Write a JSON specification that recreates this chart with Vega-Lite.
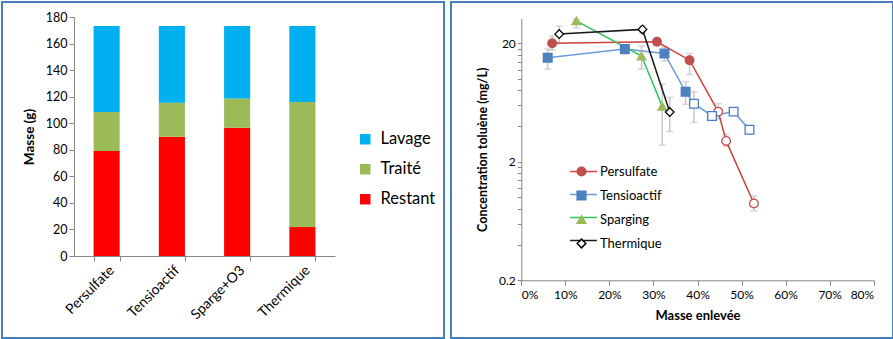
{
  "$schema": "https://vega.github.io/schema/vega-lite/v6.json",
  "padding": {"left": 1, "top": 1, "right": 2, "bottom": 2},
  "spacing": 5,
  "background": "white",
  "resolve": {
    "scale": {"color": "independent"},
    "legend": {"color": "independent"}
  },
  "config": {
    "view": {"stroke": "#4a7ebb", "strokeWidth": 2},
    "font": "Lato",
    "axis": {"grid": false, "domainColor": "#868686", "tickColor": "#868686", "labelColor": "#000000", "titleColor": "#000000", "labelFont": "Lato", "titleFont": "Lato"},
    "legend": {"labelFont": "Lato", "labelColor": "#000000"}
  },
  "hconcat": [
    {
      "width": 442,
      "height": 336,
      "data": {"values": [
        {"method": "Persulfate", "type": "Restant", "stackOrder": 1, "mass": 79.0},
        {"method": "Persulfate", "type": "Traité", "stackOrder": 2, "mass": 29.4},
        {"method": "Persulfate", "type": "Lavage", "stackOrder": 3, "mass": 64.8},
        {"method": "Tensioactif", "type": "Restant", "stackOrder": 1, "mass": 89.8},
        {"method": "Tensioactif", "type": "Traité", "stackOrder": 2, "mass": 25.7},
        {"method": "Tensioactif", "type": "Lavage", "stackOrder": 3, "mass": 57.7},
        {"method": "Sparge+O3", "type": "Restant", "stackOrder": 1, "mass": 96.6},
        {"method": "Sparge+O3", "type": "Traité", "stackOrder": 2, "mass": 22.1},
        {"method": "Sparge+O3", "type": "Lavage", "stackOrder": 3, "mass": 54.5},
        {"method": "Thermique", "type": "Restant", "stackOrder": 1, "mass": 21.8},
        {"method": "Thermique", "type": "Traité", "stackOrder": 2, "mass": 94.2},
        {"method": "Thermique", "type": "Lavage", "stackOrder": 3, "mass": 57.2}
      ]},
      "mark": {"type": "bar"},
      "encoding": {
        "x": {
          "field": "method", "type": "nominal", "sort": null,
          "scale": {"range": [72, 333], "paddingInner": 0.6, "paddingOuter": 0.3},
          "axis": {"title": null, "orient": "bottom", "offset": -82, "labelAngle": -45, "labelFontSize": 14, "tickBand": "extent", "tickSize": 5, "labelPadding": 2}
        },
        "y": {
          "field": "mass", "type": "quantitative", "stack": "zero",
          "scale": {"domain": [0, 180], "range": [254, 15], "nice": false},
          "axis": {"title": "Masse  (g)", "offset": -72, "values": [0, 20, 40, 60, 80, 100, 120, 140, 160, 180], "tickSize": 5, "labelFontSize": 12.5, "titleFontSize": 13.5, "titleFontWeight": "bold", "titlePadding": 9}
        },
        "order": {"field": "stackOrder", "type": "quantitative", "sort": "ascending"},
        "color": {
          "field": "type", "type": "nominal", "sort": ["Lavage", "Traité", "Restant"],
          "scale": {"domain": ["Lavage", "Traité", "Restant"], "range": ["#00b0f0", "#9bbb59", "#ff0000"]},
          "legend": {"title": null, "orient": "none", "legendX": 355, "legendY": 129, "labelFontSize": 16.5, "symbolType": "square", "symbolSize": 110, "symbolStrokeWidth": 0, "rowPadding": 13, "labelOffset": 7}
        }
      }
    },
    {
      "width": 442,
      "height": 336,
      "data": {"values": [
        {"series": "Persulfate", "removed": 0.070, "conc": 20.0, "hollow": false, "lo": 17.5, "hi": 23.0},
        {"series": "Persulfate", "removed": 0.308, "conc": 20.6, "hollow": false, "lo": 19.5, "hi": 22.0},
        {"series": "Persulfate", "removed": 0.382, "conc": 14.4, "hollow": false, "lo": 10.9, "hi": 16.4},
        {"series": "Persulfate", "removed": 0.447, "conc": 5.3, "hollow": true, "lo": 4.6, "hi": 6.2},
        {"series": "Persulfate", "removed": 0.465, "conc": 3.0, "hollow": true, "lo": 2.7, "hi": 3.4},
        {"series": "Persulfate", "removed": 0.528, "conc": 0.89, "hollow": true, "lo": 0.77, "hi": 1.03},
        {"series": "Tensioactif", "removed": 0.060, "conc": 15.1, "hollow": false, "lo": 12.1, "hi": 17.9},
        {"series": "Tensioactif", "removed": 0.235, "conc": 17.9, "hollow": false, "lo": 16.1, "hi": 18.6},
        {"series": "Tensioactif", "removed": 0.325, "conc": 16.4, "hollow": false, "lo": 14.2, "hi": 18.6},
        {"series": "Tensioactif", "removed": 0.373, "conc": 7.8, "hollow": false, "lo": 6.1, "hi": 9.5},
        {"series": "Tensioactif", "removed": 0.392, "conc": 6.18, "hollow": true, "lo": 4.3, "hi": 7.8},
        {"series": "Tensioactif", "removed": 0.433, "conc": 4.87, "hollow": true, "lo": null, "hi": null},
        {"series": "Tensioactif", "removed": 0.482, "conc": 5.3, "hollow": true, "lo": null, "hi": null},
        {"series": "Tensioactif", "removed": 0.518, "conc": 3.73, "hollow": true, "lo": null, "hi": null},
        {"series": "Sparging", "removed": 0.125, "conc": 30.9, "hollow": false, "lo": 27.0, "hi": 32.0},
        {"series": "Sparging", "removed": 0.273, "conc": 15.6, "hollow": false, "lo": 12.1, "hi": 19.0},
        {"series": "Sparging", "removed": 0.320, "conc": 5.87, "hollow": false, "lo": 2.76, "hi": 9.0},
        {"series": "Thermique", "removed": 0.086, "conc": 23.9, "hollow": true, "lo": 20.0, "hi": 28.0},
        {"series": "Thermique", "removed": 0.275, "conc": 26.2, "hollow": true, "lo": 24.5, "hi": 28.0},
        {"series": "Thermique", "removed": 0.337, "conc": 5.26, "hollow": true, "lo": 3.6, "hi": 7.0}
      ]},
      "layer": [
        {
          "transform": [{"filter": "isValid(datum.lo)"}],
          "mark": {"type": "errorbar", "ticks": {"size": 7}, "color": "#c8c8c8", "thickness": 1.5},
          "encoding": {
            "x": {"field": "removed", "type": "quantitative", "scale": {"domain": [0, 0.8], "range": [70.3, 422.7], "nice": false},
              "axis": {"title": "Masse enlevée", "orient": "bottom", "offset": -57.7, "values": [0, 0.1, 0.2, 0.3, 0.4, 0.5, 0.6, 0.7, 0.8], "format": ".0%", "tickSize": 5, "labelFontSize": 12, "labelPadding": 4, "titleFontSize": 13, "titleFontWeight": "bold", "titlePadding": 9}},
            "y": {"field": "lo", "type": "quantitative", "scale": {"type": "log", "domain": [0.2, 32.5], "range": [278.3, 16.3], "nice": false},
              "axis": {"title": "Concentration toluène  (mg/L)", "offset": -70.3, "values": [0.2, 0.4, 0.6, 0.8, 1, 1.2, 1.4, 1.6, 1.8, 2, 4, 6, 8, 10, 12, 14, 16, 18, 20], "format": "~g", "labelExpr": "(datum.value == 0.2 || datum.value == 2 || datum.value == 20) ? datum.label : ''", "tickSize": 4, "labelFontSize": 12, "titleFontSize": 12.5, "titleFontWeight": "bold", "titlePadding": 9}},
            "y2": {"field": "hi"}
          }
        },
        {
          "mark": {"type": "line", "strokeWidth": 1.5},
          "encoding": {
            "x": {"field": "removed", "type": "quantitative"},
            "y": {"field": "conc", "type": "quantitative"},
            "color": {"field": "series", "type": "nominal", "scale": {"domain": ["Persulfate", "Tensioactif", "Sparging", "Thermique"], "range": ["#d0403c", "#6a9ad8", "#2ec45e", "#1a1a1a"]},
              "legend": {"title": null, "orient": "none", "legendX": 126, "legendY": 163, "padding": 0, "labelFontSize": 13, "labelExpr": "' '", "symbolType": "M-3.1,0H3.1", "symbolSize": 75, "symbolStrokeWidth": 1.5, "rowPadding": 9, "symbolOffset": 0, "labelOffset": 12}}
          }
        },
        {
          "mark": {"type": "point", "filled": true, "size": 75, "strokeWidth": 1.3, "opacity": 1},
          "encoding": {
            "x": {"field": "removed", "type": "quantitative"},
            "y": {"field": "conc", "type": "quantitative"},
            "shape": {"field": "series", "type": "nominal", "title": null,
              "scale": {"domain": ["Persulfate", "Tensioactif", "Sparging", "Thermique"], "range": ["circle", "square", "triangle-up", "diamond"]},
              "legend": {"title": null, "orient": "none", "legendX": 573, "legendY": 163, "padding": 0, "labelFontSize": 13, "symbolSize": 75, "rowPadding": 9, "symbolOffset": 0, "labelOffset": 12}},
            "stroke": {"field": "series", "type": "nominal", "title": null,
              "scale": {"domain": ["Persulfate", "Tensioactif", "Sparging", "Thermique"], "range": ["#c0504d", "#4a7ec4", "#9bbb59", "#000000"]},
              "legend": {"title": null, "orient": "none", "legendX": 573, "legendY": 163, "padding": 0, "labelFontSize": 13, "symbolSize": 75, "rowPadding": 9, "symbolOffset": 0, "labelOffset": 12}},
            "fill": {"field": "series", "type": "nominal", "title": null,
              "condition": {"test": "datum.hollow", "value": "white"},
              "scale": {"domain": ["Persulfate", "Tensioactif", "Sparging", "Thermique"], "range": ["#c0504d", "#4f81bd", "#9bbb59", "#ffffff"]},
              "legend": {"title": null, "orient": "none", "legendX": 573, "legendY": 163, "padding": 0, "labelFontSize": 13, "symbolSize": 75, "rowPadding": 9, "symbolOffset": 0, "labelOffset": 12}}
          }
        }
      ]
    }
  ]
}
